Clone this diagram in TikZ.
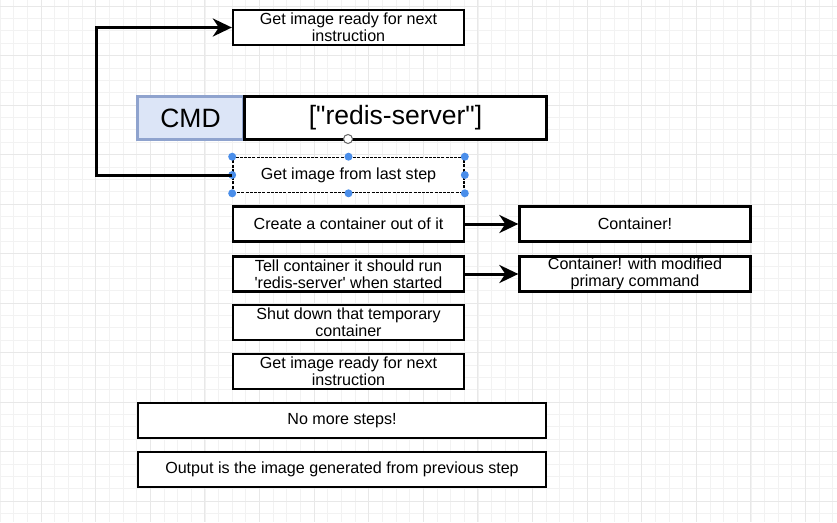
\documentclass[tikz,border=0pt]{standalone}
\usepackage{fontspec}
\setmainfont{Liberation Sans}[Ligatures=TeXOff]
\usetikzlibrary{arrows.meta}
\definecolor{cmdfill}{HTML}{DCE5F7}
\definecolor{cmdline}{HTML}{8FA3CE}
\definecolor{handle}{HTML}{4A8EEA}
\newcommand{\dq}{\symbol{34}}
\newcommand{\sq}{\symbol{39}}
\tikzset{
  box/.style={draw=black, line width=2.3pt, fill=white, minimum width=231pt, minimum height=35pt,
    inner sep=0pt, align=center, font=\fontsize{16.1}{17}\selectfont},
  widebox/.style={box, minimum width=408pt},
  rightbox/.style={box},
  bigtext/.style={font=\fontsize{26.5}{28}\selectfont},
  conn/.style={line width=3pt, -{Stealth[length=19pt,width=18pt,inset=6pt]}},
  handledot/.style={circle, fill=handle, inner sep=0pt, minimum size=8pt}
}
\begin{document}
\begin{tikzpicture}[x=1pt,y=-1pt]
\useasboundingbox (0,0) rectangle (837,522);
\fill[white] (0,0) rectangle (837,522);
% grid
\foreach \i in {0,...,62} {
  \draw[black!5, line width=0.6pt] ({41+13.65*(\i-3)},0) -- ({41+13.65*(\i-3)},522);
}
\foreach \j in {0,...,43} {
  \draw[black!5, line width=0.6pt] (0,{6+12.375*(\j)}) -- (837,{6+12.375*(\j)});
}
\foreach \i in {0,...,15} {
  \draw[black!9, line width=0.9pt] ({41+54.6*\i},0) -- ({41+54.6*\i},522);
}
\foreach \j in {0,...,10} {
  \draw[black!9, line width=0.9pt] (0,{6+49.5*\j}) -- (837,{6+49.5*\j});
}

% nodes
\node[box] (top) at (348.5,27.5) {Get image ready for next\\instruction};
\node[box, draw=cmdline, fill=cmdfill, minimum width=106pt, minimum height=43pt, bigtext] (cmd) at (190.5,118) {CMD};
\node[box, minimum width=302pt, minimum height=43pt, bigtext] (redis) at (395.5,118) {[\dq redis-server\dq]};
\node[box, dashed, line width=1.6pt, dash pattern=on 3pt off 1.2pt] (last) at (348.5,175) {Get image from last step};
\node[box] (create) at (348.5,224) {Create a container out of it};
\node[rightbox] (cont) at (635,224) {Container!};
\node[box] (tell) at (348.5,274) {Tell container it should run\\\sq redis-server\sq{} when started};
\node[rightbox] (mod) at (635,274) {Container! with modified\\primary command};
\node[box] (shut) at (348.5,322.5) {Shut down that temporary\\container};
\node[box] (ready) at (348.5,371.5) {Get image ready for next\\instruction};
\node[widebox] (nomore) at (342,420.5) {No more steps!};
\node[widebox] (out) at (342,469.5) {Output is the image generated from previous step};

% selection handles
\foreach \a in {north west,north,north east,west,east,south west,south,south east} {
  \node[handledot] (h-\a) at (last.\a) {};
}
% rotate icon
\node[circle, draw=black!60, fill=white, line width=1pt, minimum size=9pt, inner sep=0pt] (rot) at (348,139) {};

% connectors
\coordinate (lc) at (96.5,175);
\draw[conn] (last.west) -- (lc) |- (top.west);
\draw[conn] (create.east) -- (cont.west);
\draw[conn] (tell.east) -- (mod.west);
\end{tikzpicture}
\end{document}
